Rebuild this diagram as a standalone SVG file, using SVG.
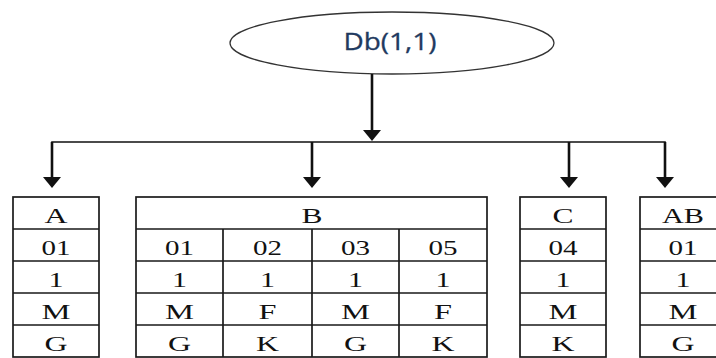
<svg xmlns="http://www.w3.org/2000/svg" width="716" height="358" viewBox="0 0 716 358">
<style>
.cell{fill:#fff;stroke:#1a1a1a;stroke-width:1.7}
.grid{stroke:#1a1a1a;stroke-width:1.7;fill:none}
.t{font-family:"Liberation Serif","Times New Roman",serif;font-size:22px;fill:#111;text-anchor:middle}
.conn{stroke:#111;fill:none}
</style>
<defs>
<marker id="ah" viewBox="0 0 11 18" refX="3" refY="9" markerWidth="11" markerHeight="18" markerUnits="userSpaceOnUse" orient="auto">
<path d="M0,0 L11,9 L0,18 z" fill="#111"/>
</marker>
</defs>
<rect width="716" height="358" fill="#fff"/>
<g id="root">
<ellipse cx="392" cy="43" rx="162" ry="31" fill="#fff" stroke="#333" stroke-width="1.3"/>
<text x="390" y="50" font-family="'Open Sans','Liberation Sans',sans-serif" font-size="23" fill="#1f3a60" stroke="#1f3a60" stroke-width="0.3" text-anchor="middle" textLength="93" lengthAdjust="spacingAndGlyphs">Db(1,1)</text>
</g>
<g id="connectors">
<line class="conn" x1="372" y1="74" x2="372" y2="133" stroke-width="2.6" marker-end="url(#ah)"/>
<polyline class="conn" points="52,180 52,142 665,142 665,180" stroke-width="1.6"/>
<line class="conn" x1="52" y1="142" x2="52" y2="180" stroke-width="2.6" marker-end="url(#ah)"/>
<line class="conn" x1="312" y1="142" x2="312" y2="180" stroke-width="2.6" marker-end="url(#ah)"/>
<line class="conn" x1="569" y1="142" x2="569" y2="180" stroke-width="2.6" marker-end="url(#ah)"/>
<line class="conn" x1="665" y1="142" x2="665" y2="180" stroke-width="2.6" marker-end="url(#ah)"/>
</g>
<g id="tableA">
<rect class="cell" x="13" y="197" width="86" height="160"/>
<path class="grid" d="M13,229H99M13,261H99M13,293H99M13,325H99"/>
<text class="t" x="56" y="223" textLength="23" lengthAdjust="spacingAndGlyphs">A</text>
<text class="t" x="56" y="255" textLength="29" lengthAdjust="spacingAndGlyphs">01</text>
<text class="t" x="56" y="287" textLength="15" lengthAdjust="spacingAndGlyphs">1</text>
<text class="t" x="56" y="319" textLength="29" lengthAdjust="spacingAndGlyphs">M</text>
<text class="t" x="56" y="351" textLength="23" lengthAdjust="spacingAndGlyphs">G</text>
</g>
<g id="tableB">
<rect class="cell" x="136" y="197" width="351" height="160"/>
<path class="grid" d="M136,229H487M136,261H487M136,293H487M136,325H487M223,229V357M312,229V357M399,229V357"/>
<text class="t" x="312" y="223" textLength="21" lengthAdjust="spacingAndGlyphs">B</text>
<text class="t" x="179.5" y="255" textLength="29" lengthAdjust="spacingAndGlyphs">01</text>
<text class="t" x="267.5" y="255" textLength="29" lengthAdjust="spacingAndGlyphs">02</text>
<text class="t" x="355.5" y="255" textLength="29" lengthAdjust="spacingAndGlyphs">03</text>
<text class="t" x="443" y="255" textLength="29" lengthAdjust="spacingAndGlyphs">05</text>
<text class="t" x="179.5" y="287" textLength="15" lengthAdjust="spacingAndGlyphs">1</text>
<text class="t" x="267.5" y="287" textLength="15" lengthAdjust="spacingAndGlyphs">1</text>
<text class="t" x="355.5" y="287" textLength="15" lengthAdjust="spacingAndGlyphs">1</text>
<text class="t" x="443" y="287" textLength="15" lengthAdjust="spacingAndGlyphs">1</text>
<text class="t" x="179.5" y="319" textLength="29" lengthAdjust="spacingAndGlyphs">M</text>
<text class="t" x="267.5" y="319" textLength="18" lengthAdjust="spacingAndGlyphs">F</text>
<text class="t" x="355.5" y="319" textLength="29" lengthAdjust="spacingAndGlyphs">M</text>
<text class="t" x="443" y="319" textLength="18" lengthAdjust="spacingAndGlyphs">F</text>
<text class="t" x="179.5" y="351" textLength="23" lengthAdjust="spacingAndGlyphs">G</text>
<text class="t" x="267.5" y="351" textLength="23" lengthAdjust="spacingAndGlyphs">K</text>
<text class="t" x="355.5" y="351" textLength="23" lengthAdjust="spacingAndGlyphs">G</text>
<text class="t" x="443" y="351" textLength="23" lengthAdjust="spacingAndGlyphs">K</text>
</g>
<g id="tableC">
<rect class="cell" x="520" y="197" width="86" height="160"/>
<path class="grid" d="M520,229H606M520,261H606M520,293H606M520,325H606"/>
<text class="t" x="563" y="223" textLength="21" lengthAdjust="spacingAndGlyphs">C</text>
<text class="t" x="563" y="255" textLength="29" lengthAdjust="spacingAndGlyphs">04</text>
<text class="t" x="563" y="287" textLength="15" lengthAdjust="spacingAndGlyphs">1</text>
<text class="t" x="563" y="319" textLength="29" lengthAdjust="spacingAndGlyphs">M</text>
<text class="t" x="563" y="351" textLength="23" lengthAdjust="spacingAndGlyphs">K</text>
</g>
<g id="tableAB">
<rect class="cell" x="640" y="197" width="86" height="160"/>
<path class="grid" d="M640,229H726M640,261H726M640,293H726M640,325H726"/>
<text class="t" x="683" y="223" textLength="42" lengthAdjust="spacingAndGlyphs">AB</text>
<text class="t" x="683" y="255" textLength="29" lengthAdjust="spacingAndGlyphs">01</text>
<text class="t" x="683" y="287" textLength="15" lengthAdjust="spacingAndGlyphs">1</text>
<text class="t" x="683" y="319" textLength="29" lengthAdjust="spacingAndGlyphs">M</text>
<text class="t" x="683" y="351" textLength="23" lengthAdjust="spacingAndGlyphs">G</text>
</g>
</svg>
